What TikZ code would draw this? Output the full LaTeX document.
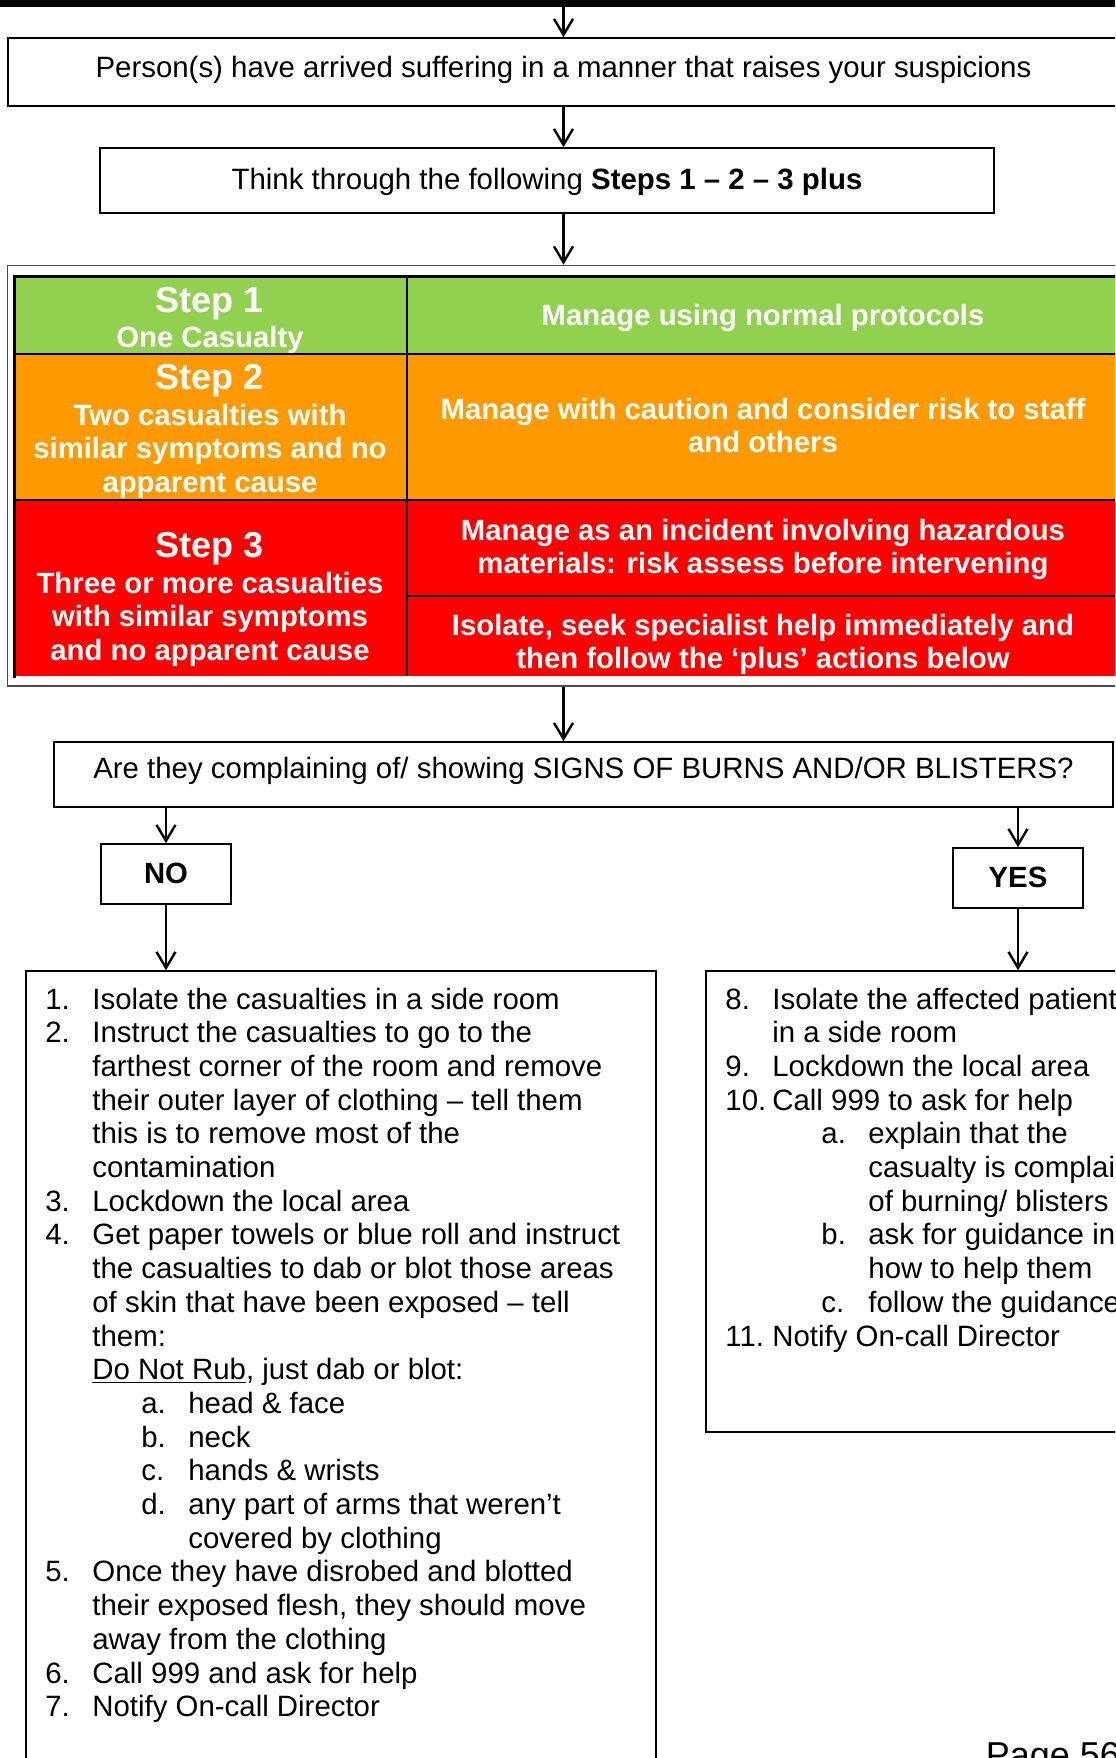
\documentclass[tikz,border=0pt]{standalone}
\usepackage{fontspec}
\setmainfont{Liberation Sans}
\usetikzlibrary{arrows.meta}
\definecolor{stepgreen}{HTML}{92D050}
\definecolor{steporange}{HTML}{FF9900}
\definecolor{stepred}{HTML}{FF0000}
\newcommand\mynormfont{\fontsize{14.7}{16.85}\selectfont}
\newcommand\myheadfont{\fontsize{18}{21}\selectfont\bfseries}
\newcommand\myboldfont{\fontsize{14.65}{16.85}\selectfont\bfseries}
\newcommand\numitem[2]{\makebox[23.5pt][l]{#1}#2}
\newcommand\contitem[1]{\hspace*{23.5pt}#1}
\newcommand\mysubitem[2]{\hspace*{48pt}\makebox[23.5pt][l]{#1}#2}
\newcommand\mysubcont[1]{\hspace*{71.5pt}#1}
\begin{document}
\begin{tikzpicture}[x=0.5pt,y=-0.5pt,
  box/.style={draw=black, line width=0.8pt, rectangle, inner sep=0pt},
  framebox/.style={draw=black!70, line width=0.8pt, rectangle, inner sep=0pt},
  cell/.style={rectangle, inner sep=0pt, draw=none},
  arr/.style={-{Straight Barb[length=8pt,width=9.5pt]}, line width=1.2pt},
  plaintext/.style={anchor=base, inner sep=0pt, font=\mynormfont},
  listtext/.style={anchor=base west, inner sep=0pt, font=\mynormfont},
  headtext/.style={anchor=base, inner sep=0pt, text=white, font=\myheadfont},
  celltext/.style={anchor=base, inner sep=0pt, text=white, font=\myboldfont},
  tableborder/.style={line width=1.5pt, line cap=rect},
  tableline/.style={line width=1pt}
]
\useasboundingbox (0,0) rectangle (1115,1758);
\clip (0,0) rectangle (1115,1758);

% top bar
\fill[black] (0,0) rectangle (1115,7);
\coordinate (start) at (563.5,7);

% boxes
\node[box, minimum width=555.5pt, minimum height=34pt] (box1) at (563.5,72) {};
\node[plaintext] (t1) at (563.5,77) {Person(s) have arrived suffering in a manner that raises your suspicions};

\node[box, minimum width=447pt, minimum height=32.5pt] (box2) at (547,180.5) {};
\node[plaintext] (t2) at (547,189) {Think through the following \textbf{Steps 1 – 2 – 3 plus}};

\node[framebox, minimum width=558.75pt, minimum height=210.25pt] (frame) at (566.25,475.75) {};

% table cells
\node[cell, fill=stepgreen, minimum width=196.25pt, minimum height=38.5pt] (c1l) at (210.75,315.5) {};
\node[cell, fill=stepgreen, minimum width=359pt, minimum height=38.5pt] (c1r) at (766,315.5) {};
\node[cell, fill=steporange, minimum width=196.25pt, minimum height=73pt] (c2l) at (210.75,427) {};
\node[cell, fill=steporange, minimum width=359pt, minimum height=73pt] (c2r) at (766,427) {};
\node[cell, fill=stepred, minimum width=196.25pt, minimum height=88pt] (c3l) at (210.75,588) {};
\node[cell, fill=stepred, minimum width=359pt, minimum height=48pt] (c3ra) at (766,548) {};
\node[cell, fill=stepred, minimum width=359pt, minimum height=40pt] (c3rb) at (766,636) {};

\draw[tableborder] (c3l.south west) -- (c1l.north west) -- (c1r.north east);
\draw[tableline] (c1l.south west) -- (c1r.south east);
\draw[tableline] (c2l.south west) -- (c2r.south east);
\draw[tableline] (c1l.north east) -- (c3l.south east);
\draw[tableline] (c3ra.south west) -- (c3ra.south east);

% table texts
\node[headtext] (h1) at (210,312) {Step 1};
\node[celltext] (s1) at (210,347) {One Casualty};
\node[celltext] (r1) at (763,325) {Manage using normal protocols};
\node[headtext] (h2) at (210,389) {Step 2};
\node[celltext] (s2) at (210,425) {\begin{tabular}[t]{@{}c@{}}Two casualties with\\similar symptoms and no\\apparent cause\end{tabular}};
\node[celltext] (r2) at (763,419) {\begin{tabular}[t]{@{}c@{}}Manage with caution and consider risk to staff\\and others\end{tabular}};
\node[headtext] (h3) at (210,557) {Step 3};
\node[celltext] (s3) at (210,593) {\begin{tabular}[t]{@{}c@{}}Three or more casualties\\with similar symptoms\\and no apparent cause\end{tabular}};
\node[celltext] (r3a) at (763,540) {\begin{tabular}[t]{@{}c@{}}Manage as an incident involving hazardous\\materials: risk assess before intervening\end{tabular}};
\node[celltext] (r3b) at (763,635) {\begin{tabular}[t]{@{}c@{}}Isolate, seek specialist help immediately and\\then follow the ‘plus’ actions below\end{tabular}};

% question
\node[box, minimum width=529.5pt, minimum height=32.5pt] (box3) at (583.5,774.5) {};
\node[plaintext] (t3) at (583.5,778) {Are they complaining of/ showing SIGNS OF BURNS AND/OR BLISTERS?};

\node[box, minimum width=65pt, minimum height=30pt] (noBox) at (166,874) {};
\node[plaintext, font=\myboldfont] (tno) at (166,883) {NO};
\node[box, minimum width=65pt, minimum height=30pt] (yesBox) at (1018,878) {};
\node[plaintext, font=\myboldfont] (tyes) at (1018,887) {YES};

% list boxes
\node[box, minimum width=315pt, minimum height=414.5pt] (leftBox) at (341,1385.5) {};
\node[box, minimum width=212pt, minimum height=230.5pt] (rightBox) at (918,1201.5) {};

\node[listtext] (leftlist) at (45,1009) {\begin{tabular}[t]{@{}l@{}}
\numitem{1.}{Isolate the casualties in a side room}\\
\numitem{2.}{Instruct the casualties to go to the}\\
\contitem{farthest corner of the room and remove}\\
\contitem{their outer layer of clothing – tell them}\\
\contitem{this is to remove most of the}\\
\contitem{contamination}\\
\numitem{3.}{Lockdown the local area}\\
\numitem{4.}{Get paper towels or blue roll and instruct}\\
\contitem{the casualties to dab or blot those areas}\\
\contitem{of skin that have been exposed – tell}\\
\contitem{them:}\\
\contitem{\underline{Do Not Rub}, just dab or blot:}\\
\mysubitem{a.}{head \& face}\\
\mysubitem{b.}{neck}\\
\mysubitem{c.}{hands \& wrists}\\
\mysubitem{d.}{any part of arms that weren’t}\\
\mysubcont{covered by clothing}\\
\numitem{5.}{Once they have disrobed and blotted}\\
\contitem{their exposed flesh, they should move}\\
\contitem{away from the clothing}\\
\numitem{6.}{Call 999 and ask for help}\\
\numitem{7.}{Notify On-call Director}
\end{tabular}};

\node[listtext] (rightlist) at (725,1009) {\begin{tabular}[t]{@{}l@{}}
\numitem{8.}{Isolate the affected patients}\\
\contitem{in a side room}\\
\numitem{9.}{Lockdown the local area}\\
\numitem{10.}{Call 999 to ask for help}\\
\mysubitem{a.}{explain that the}\\
\mysubcont{casualty is complaining}\\
\mysubcont{of burning/ blisters}\\
\mysubitem{b.}{ask for guidance in}\\
\mysubcont{how to help them}\\
\mysubitem{c.}{follow the guidance}\\
\numitem{11.}{Notify On-call Director}
\end{tabular}};

\node[anchor=base west, inner sep=0pt, font=\fontsize{18}{21}\selectfont] (page) at (985.5,1767) {Page 56};

% connectors
\draw[arr] (start) -- (box1.north);
\draw[arr] (box1.south) -- (box1.south |- box2.north);
\draw[arr] (box1.south |- box2.south) -- (box1.south |- frame.north);
\draw[arr] (box1.south |- frame.south) -- (box1.south |- box3.north);
\draw[arr] (box3.south -| noBox.north) -- (noBox.north);
\draw[arr] (noBox.south) -- (noBox.south |- leftBox.north);
\draw[arr] (box3.south -| yesBox.north) -- (yesBox.north);
\draw[arr] (yesBox.south) -- (yesBox.south |- rightBox.north);
\end{tikzpicture}
\end{document}
